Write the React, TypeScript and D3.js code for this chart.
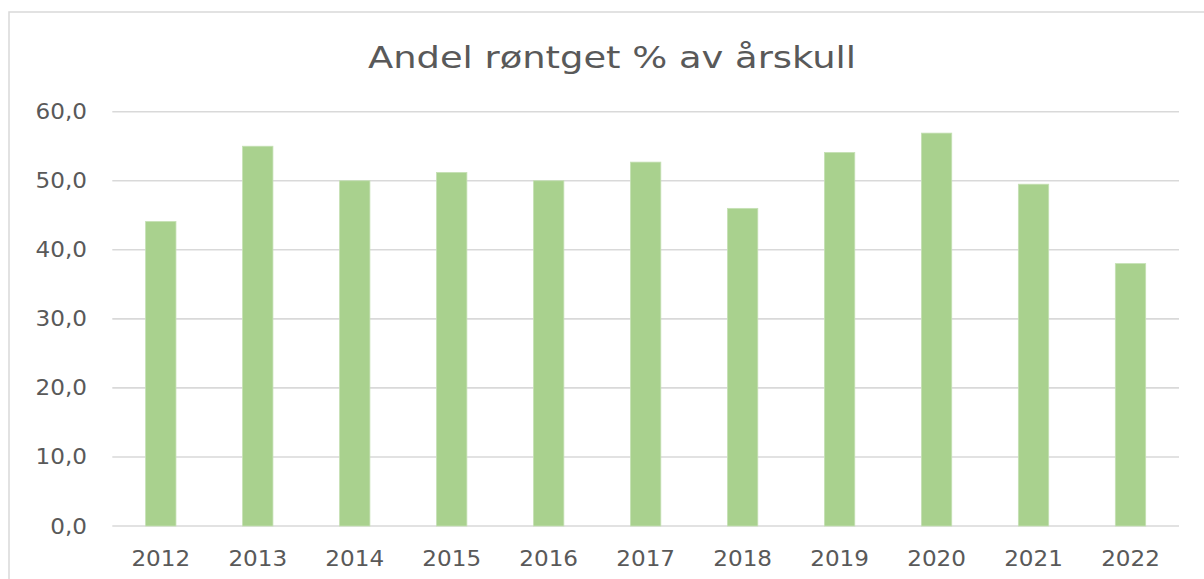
import React from "react";
import * as d3 from "d3";

const categories = ["2012", "2013", "2014", "2015", "2016", "2017", "2018", "2019", "2020", "2021", "2022"];
const values = [44.1, 55.0, 50.0, 51.2, 50.0, 52.7, 46.0, 54.1, 56.9, 49.5, 38.0];
const yTicks = [0, 10, 20, 30, 40, 50, 60];
const title = "Andel røntget % av årskull";

const W = 1204;
const H = 579;

export default function App() {
  const x = d3
    .scaleBand<string>()
    .domain(categories)
    .range([112.3, 1179])
    .paddingInner(0.687)
    .paddingOuter(0.3435);
  const y = d3.scaleLinear().domain([0, 60]).range([526, 111.7]);
  const fmt = (v: number) => v.toFixed(1).replace(".", ",");
  const font = "'DejaVu Sans', sans-serif";
  const textColor = "#595959";

  return (
    <svg
      width={W}
      height={H}
      style={{ position: "fixed", left: 0, top: 0, background: "#fff" }}
    >
      <rect x={0} y={0} width={W} height={H} fill="#fff" />
      <rect
        x={9}
        y={12}
        width={W + 20}
        height={H + 20}
        fill="#fff"
        stroke="#d9d9d9"
        strokeWidth={1.5}
      />
      <text
        x={612}
        y={67.5}
        textAnchor="middle"
        fontFamily={font}
        fontSize={30}
        fill={textColor}
        textLength={488}
        lengthAdjust="spacingAndGlyphs"
      >
        {title}
      </text>
      {yTicks.map((t) => (
        <g key={t}>
          <line
            x1={112.3}
            x2={1179}
            y1={y(t)}
            y2={y(t)}
            stroke="#d9d9d9"
            strokeWidth={1.6}
          />
          <text
            transform={`translate(87,${y(t) + 7.5}) scale(1.1,1)`}
            textAnchor="end"
            fontFamily={font}
            fontSize={21}
            fill={textColor}
          >
            {fmt(t)}
          </text>
        </g>
      ))}
      {categories.map((c, i) => (
        <g key={c}>
          <rect
            x={x(c)!}
            y={y(values[i])}
            width={x.bandwidth()}
            height={y(0) - y(values[i])}
            fill="#a9d18e"
            stroke="#c5e0b4"
            strokeWidth={0.8}
          />
          <text
            transform={`translate(${x(c)! + x.bandwidth() / 2},566) scale(1.05,1)`}
            textAnchor="middle"
            fontFamily={font}
            fontSize={22}
            fill={textColor}
          >
            {c}
          </text>
        </g>
      ))}
    </svg>
  );
}
